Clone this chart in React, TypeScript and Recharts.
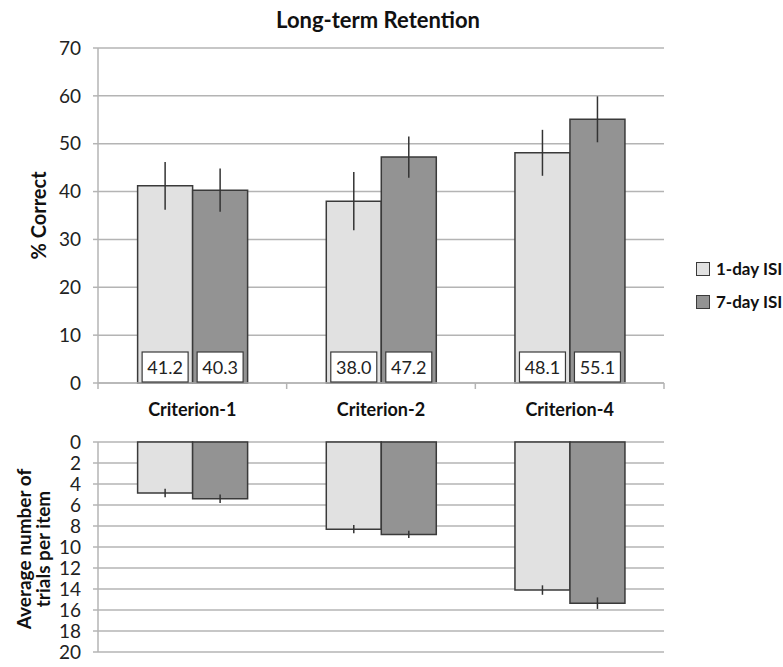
import { BarChart, Bar, XAxis, YAxis, CartesianGrid, ErrorBar, LabelList } from 'recharts';

const categories = ['Criterion-1', 'Criterion-2', 'Criterion-4'];
const seriesNames = ['1-day ISI', '7-day ISI'];
const retention1 = [41.2, 38.0, 48.1];
const retention7 = [40.3, 47.2, 55.1];
const retentionErr1 = [5.0, 6.1, 4.8];
const retentionErr7 = [4.5, 4.3, 4.8];
const trials1 = [4.85, 8.3, 14.1];
const trials7 = [5.4, 8.8, 15.35];
const trialsErr1 = [0.4, 0.4, 0.45];
const trialsErr7 = [0.4, 0.35, 0.55];
const retentionTicks = [0, 10, 20, 30, 40, 50, 60, 70];
const trialTicks = [0, 2, 4, 6, 8, 10, 12, 14, 16, 18, 20];

const LIGHT = '#e1e1e1';
const DARK = '#939393';
const EDGE = '#3a3a3a';
const GRID = '#b4b4b4';
const FONT = 'Lato, "Open Sans", sans-serif';

const topData = categories.map((c, i) => ({
  name: c,
  a: retention1[i],
  b: retention7[i],
  ea: retentionErr1[i],
  eb: retentionErr7[i],
}));

const bottomData = categories.map((c, i) => ({
  name: c,
  a: trials1[i],
  b: trials7[i],
  ea: trialsErr1[i],
  eb: trialsErr7[i],
}));

// white value box sitting on the baseline of each bar
const ValueBox = (props: any) => {
  const { x, y, width, height, value } = props;
  const bottom = y + height;
  const w = 46;
  const h = 30;
  const cx = x + width / 2;
  return (
    <g>
      <rect x={cx - w / 2} y={bottom - h - 1} width={w} height={h} fill="#fff" stroke={EDGE} strokeWidth={1.2} />
      <text x={cx} y={bottom - h / 2 + 6} textAnchor="middle" fontSize={18} fill="#222" fontFamily={FONT}>
        {Number(value).toFixed(1)}
      </text>
    </g>
  );
};

const CatTick = (props: any) => {
  const { x, y, payload } = props;
  const half = 566 / 3 / 2;
  return (
    <g>
      <line x1={x + half} y1={y - 8} x2={x + half} y2={y - 2} stroke={GRID} strokeWidth={1.5} />
      {payload.index === 0 && (
        <line x1={x - half} y1={y - 8} x2={x - half} y2={y - 2} stroke={GRID} strokeWidth={1.5} />
      )}
      <text x={x} y={y + 25} textAnchor="middle" fontSize={18} fontWeight="bold" fill="#111" fontFamily={FONT}>
        {payload.value}
      </text>
    </g>
  );
};

const TopLabel = (props: any) => {
  const { viewBox } = props;
  const cx = 46;
  const cy = viewBox.y + viewBox.height / 2;
  return (
    <text x={cx} y={cy} transform={`rotate(-90 ${cx} ${cy})`} textAnchor="middle" fontSize={20} fontWeight="bold" fill="#111" fontFamily={FONT}>
      % Correct
    </text>
  );
};

const BottomLabel = (props: any) => {
  const { viewBox } = props;
  const cx = 31;
  const cy = viewBox.y + viewBox.height / 2 + 2;
  return (
    <text x={cx} y={cy} transform={`rotate(-90 ${cx} ${cy})`} textAnchor="middle" fontSize={19} fontWeight="bold" fill="#111" fontFamily={FONT}>
      <tspan x={cx} dy={0}>Average number of</tspan>
      <tspan x={cx} dy={19}>trials per item</tspan>
    </text>
  );
};

const tickStyle = { fontSize: 19, fill: '#222', fontFamily: FONT };

export default function App() {
  return (
    <div style={{ position: 'absolute', left: 0, top: 0, width: 783, height: 667, background: '#fff', fontFamily: FONT }}>
      <div style={{ position: 'absolute', left: 0, top: 6, width: 756, textAlign: 'center', fontSize: 22, fontWeight: 'bold', color: '#111' }}>
        Long-term Retention
      </div>
      <div style={{ position: 'absolute', left: 0, top: 0 }}>
        <BarChart width={783} height={430} data={topData} margin={{ top: 48, right: 119, left: 0, bottom: 0 }} barGap={0} barCategoryGap="21%">
          <CartesianGrid vertical={false} stroke={GRID} strokeWidth={1.5} />
          <XAxis dataKey="name" height={47} axisLine={{ stroke: GRID, strokeWidth: 1.5 }} tickLine={false} tick={<CatTick />} interval={0} />
          <YAxis
            width={98}
            domain={[0, 70]}
            ticks={retentionTicks}
            tick={tickStyle}
            axisLine={{ stroke: GRID, strokeWidth: 1.5 }}
            tickLine={{ stroke: GRID, strokeWidth: 1.5 }}
            tickSize={5}
            tickMargin={12}
            label={<TopLabel />}
          />
          <Bar dataKey="a" name={seriesNames[0]} fill={LIGHT} stroke={EDGE} strokeWidth={1.5} isAnimationActive={false}>
            <ErrorBar dataKey="ea" width={0} stroke="#333" strokeWidth={1.5} />
            <LabelList dataKey="a" content={<ValueBox />} />
          </Bar>
          <Bar dataKey="b" name={seriesNames[1]} fill={DARK} stroke={EDGE} strokeWidth={1.5} isAnimationActive={false}>
            <ErrorBar dataKey="eb" width={0} stroke="#333" strokeWidth={1.5} />
            <LabelList dataKey="b" content={<ValueBox />} />
          </Bar>
        </BarChart>
      </div>
      <div style={{ position: 'absolute', left: 0, top: 430 }}>
        <BarChart width={783} height={237} data={bottomData} margin={{ top: 12, right: 119, left: 0, bottom: 15 }} barGap={0} barCategoryGap="21%">
          <CartesianGrid vertical={false} stroke={GRID} strokeWidth={1.5} />
          <XAxis dataKey="name" hide />
          <YAxis
            width={98}
            domain={[0, 20]}
            ticks={trialTicks}
            reversed
            interval={0}
            tick={tickStyle}
            axisLine={{ stroke: GRID, strokeWidth: 1.5 }}
            tickLine={{ stroke: GRID, strokeWidth: 1.5 }}
            tickSize={5}
            tickMargin={12}
            label={<BottomLabel />}
          />
          <Bar dataKey="a" name={seriesNames[0]} fill={LIGHT} stroke={EDGE} strokeWidth={1.5} isAnimationActive={false}>
            <ErrorBar dataKey="ea" width={0} stroke="#333" strokeWidth={1.5} />
          </Bar>
          <Bar dataKey="b" name={seriesNames[1]} fill={DARK} stroke={EDGE} strokeWidth={1.5} isAnimationActive={false}>
            <ErrorBar dataKey="eb" width={0} stroke="#333" strokeWidth={1.5} />
          </Bar>
        </BarChart>
      </div>
      <div style={{ position: 'absolute', left: 696, top: 252, fontSize: 17, fontWeight: 'bold', color: '#111' }}>
        {seriesNames.map((n, i) => (
          <div key={n} style={{ display: 'flex', alignItems: 'center', height: 33 }}>
            <span style={{ display: 'inline-block', width: 12, height: 12, background: i === 0 ? LIGHT : DARK, border: `1px solid ${EDGE}`, marginRight: 6 }} />
            {n}
          </div>
        ))}
      </div>
    </div>
  );
}
